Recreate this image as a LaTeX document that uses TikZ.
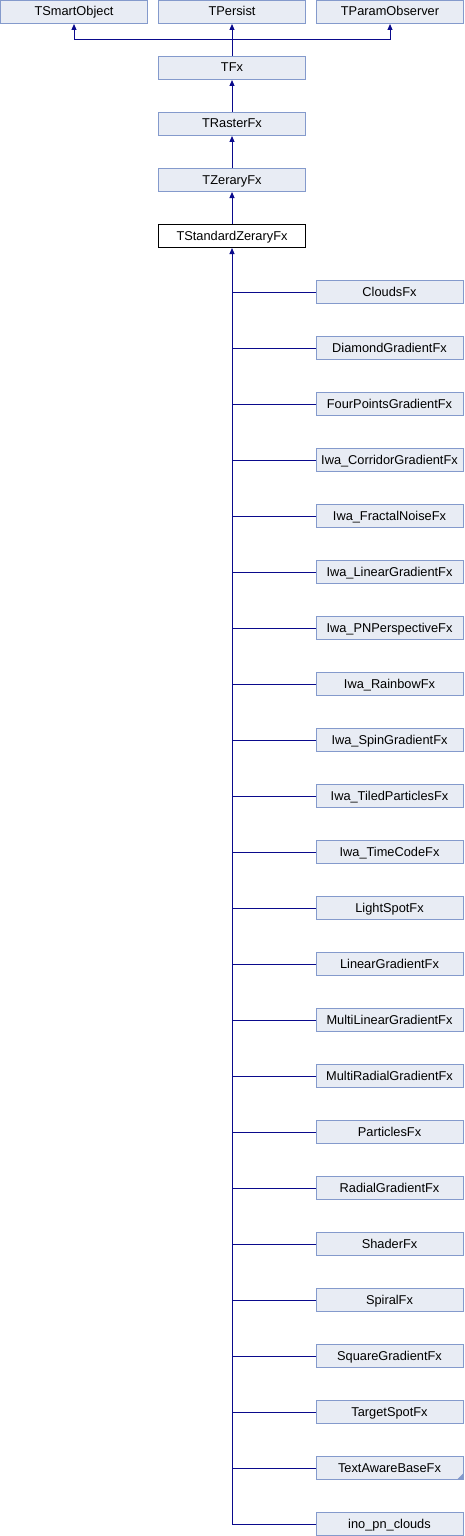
\documentclass[tikz,border=0pt]{standalone}
\usepackage{fontspec}
\setmainfont{Liberation Sans}
\usetikzlibrary{arrows.meta}
\definecolor{boxfill}{RGB}{232,236,244}
\definecolor{boxline}{RGB}{132,154,204}
\definecolor{edge}{RGB}{10,10,140}
\tikzset{
  cls/.style={draw=boxline, fill=boxfill, line width=1pt, minimum width=147pt, minimum height=23pt, inner sep=0pt, text height=10pt, text depth=2pt, font=\fontsize{12.8}{14}\selectfont},
  cur/.style={cls, draw=black, fill=white},
  arr/.style={draw=edge, line width=1pt, -{Triangle[width=5pt,length=6pt]}},
  ln/.style={draw=edge, line width=1pt}
}
\begin{document}
\begin{tikzpicture}[x=1pt,y=-1pt]
\useasboundingbox (0,0) rectangle (464,1536);
\node[cls] (tsmart) at (74,12) {TSmartObject};
\node[cls] (tpersist) at (232,12) {TPersist};
\node[cls] (tparam) at (390,12) {TParamObserver};
\node[cls] (tfx) at (232,68) {TFx};
\node[cls] (traster) at (232,124) {TRasterFx};
\node[cls] (tzerary) at (232,180) {TZeraryFx};
\node[cur] (tstd) at (232,236) {TStandardZeraryFx};
\draw[arr] (tfx.north) -- (tpersist.south);
\draw[arr] (tfx.north) -- ++(0,-16) -| (tsmart.south);
\draw[arr] (tfx.north) -- ++(0,-16) -| (tparam.south);
\draw[arr] (traster.north) -- (tfx.south);
\draw[arr] (tzerary.north) -- (traster.south);
\draw[arr] (tstd.north) -- (tzerary.south);
\foreach \name [count=\i from 0] in {CloudsFx,DiamondGradientFx,FourPointsGradientFx,Iwa\_CorridorGradientFx,Iwa\_FractalNoiseFx,Iwa\_LinearGradientFx,Iwa\_PNPerspectiveFx,Iwa\_RainbowFx,Iwa\_SpinGradientFx,Iwa\_TiledParticlesFx,Iwa\_TimeCodeFx,LightSpotFx,LinearGradientFx,MultiLinearGradientFx,MultiRadialGradientFx,ParticlesFx,RadialGradientFx,ShaderFx,SpiralFx,SquareGradientFx,TargetSpotFx,TextAwareBaseFx,ino\_pn\_clouds}{
  \node[cls] (c\i) at (389.5,{292+56*\i}) {\name};
}
\foreach \i in {0,...,21}{
  \draw[ln] (c\i.west) -- (c\i.west -| tstd.south);
}
\draw[arr] (c22.west) -| (tstd.south);
\fill[boxline] (c21.south east) ++(-0.5,-0.5) -- ++(0,-6) -- ++(-6,6) -- cycle;
\end{tikzpicture}
\end{document}
